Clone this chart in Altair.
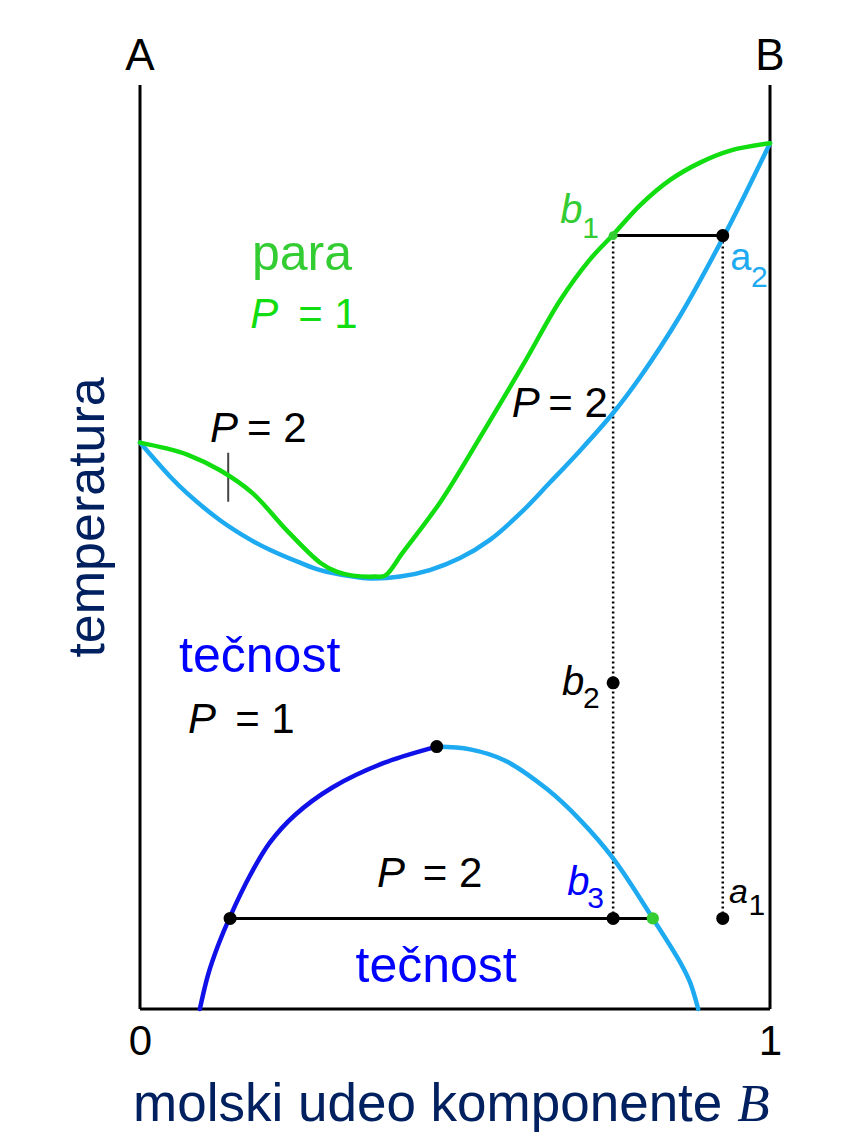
import altair as alt
import pandas as pd

# ---- data (x = mole fraction of B, T = temperature, arbitrary units) ----
upper_blue_x = [0.0, 0.048, 0.075, 0.127, 0.175, 0.206, 0.254, 0.286, 0.338, 0.365, 0.413, 0.460,
                0.508, 0.556, 0.603, 0.651, 0.698, 0.751, 0.794, 0.857, 0.925, 0.960, 1.0]
upper_blue_T = [61.3, 57.6, 55.8, 52.9, 50.8, 49.7, 48.3, 47.5, 46.8, 46.6, 46.8, 47.5,
                48.8, 50.8, 53.6, 57.0, 60.4, 64.5, 68.4, 75.0, 83.4, 88.1, 93.7]

green_x = [0.0, 0.040, 0.075, 0.127, 0.179, 0.233, 0.286, 0.313, 0.338, 0.373, 0.389, 0.417,
           0.476, 0.540, 0.608, 0.667, 0.714, 0.751, 0.794, 0.841, 0.889, 0.937, 1.0]
green_T = [61.3, 60.7, 60.0, 58.3, 55.8, 51.8, 48.3, 47.3, 46.9, 46.8, 46.9, 49.4,
           54.8, 61.9, 69.7, 76.7, 81.1, 83.8, 87.0, 89.7, 91.6, 92.9, 93.7]

dome_left_x = [0.095, 0.108, 0.124, 0.143, 0.175, 0.206, 0.246, 0.306, 0.386, 0.471]
dome_left_T = [0.0, 3.7, 6.9, 10.0, 14.5, 18.0, 21.0, 24.0, 26.6, 28.4]
dome_right_x = [0.471, 0.524, 0.579, 0.646, 0.698, 0.751, 0.814, 0.857, 0.873, 0.886]
dome_right_T = [28.4, 28.1, 26.9, 23.8, 20.5, 16.3, 9.8, 5.1, 2.9, 0.0]

black_dot_x = [0.143, 0.471, 0.751, 0.925, 0.751, 0.925]
black_dot_T = [9.8, 28.4, 9.8, 9.8, 35.3, 83.7]
green_dot_x = [0.751, 0.814]
green_dot_T = [83.7, 9.8]
green_dot_size = [80, 150]

tie_x1 = [0.143, 0.751]
tie_x2 = [0.814, 0.925]
tie_T = [9.8, 83.7]

dotted_x = [0.751, 0.925]
dotted_T1 = [9.8, 9.8]
dotted_T2 = [83.7, 83.7]

tick_x = [0.140]
tick_T1 = [54.9]
tick_T2 = [60.2]

frame_x1 = [0.0, 1.0, 0.0]
frame_x2 = [0.0, 1.0, 1.0]
frame_T1 = [0.0, 0.0, 0.0]
frame_T2 = [100.0, 100.0, 0.0]

# centred upright labels
c_text = ["A", "B", "para", "tečnost", "tečnost"]
c_x = [0.0, 1.0, 0.257, 0.190, 0.470]
c_T = [101.6, 101.6, 80.0, 36.5, 2.9]
c_size = [44, 44, 50, 50, 50]
c_color = ["#000000", "#000000", "#33CC33", "#0000FF", "#0000FF"]

# left-aligned upright labels
l_text = ["= 2", "= 2", "=  1", "=  1", "=  2", "1", "a", "2", "2", "3", "1", "molski udeo komponente"]
l_x = [0.170, 0.648, 0.251, 0.151, 0.449, 0.702, 0.937, 0.970, 0.703, 0.710, 0.966, -0.011]
l_T = [61.4, 64.1, 73.7, 29.9, 13.2, 83.4, 80.0, 78.1, 32.6, 10.9, 10.2, -12.1]
l_size = [42, 42, 42, 42, 42, 30, 38, 30, 30, 30, 30, 53]
l_color = ["#000000", "#000000", "#11DD11", "#000000", "#000000", "#33CC33", "#1EAAF0",
           "#1EAAF0", "#000000", "#0000FF", "#000000", "#002060"]

# left-aligned italic labels
i_text = ["P", "P", "P", "P", "P", "b", "b", "b", "a"]
i_x = [0.111, 0.590, 0.175, 0.076, 0.376, 0.667, 0.670, 0.678, 0.935]
i_T = [61.4, 64.1, 73.7, 29.9, 13.2, 85.1, 34.0, 12.3, 11.5]
i_size = [42, 42, 42, 42, 42, 40, 40, 40, 34]
i_color = ["#000000", "#000000", "#11DD11", "#000000", "#000000", "#33CC33", "#000000",
           "#0000FF", "#000000"]

serif_text = ["B"]
serif_x = [0.948]
serif_T = [-12.1]

ylabel_text = ["temperatura"]
ylabel_x = [-0.083]
ylabel_T = [53.2]

# ---- build tables ----
def curve(xs, ts, name):
    return pd.DataFrame({"x": xs, "T": ts, "curve": name})

blue_df = curve(upper_blue_x, upper_blue_T, "blue")
green_df = curve(green_x, green_T, "green")
dl_df = curve(dome_left_x, dome_left_T, "dl")
dr_df = curve(dome_right_x, dome_right_T, "dr")

FONT = "Arial, Liberation Sans"

X = alt.X("x:Q", scale=alt.Scale(domain=[0, 1], zero=False, nice=False),
          axis=alt.Axis(values=[0, 1], format="d", ticks=False, domain=False, grid=False,
                        title=None, labelFontSize=42, labelFont=FONT,
                        labelColor="#000000", labelPadding=12, labelFlush=False))
Y = alt.Y("T:Q", scale=alt.Scale(domain=[0, 100], zero=False, nice=False), axis=None)
Xn = alt.X("x:Q")
Yn = alt.Y("T:Q")


def line_layer(df, color):
    return alt.Chart(df).mark_line(color=color, strokeWidth=4.5, interpolate="catmull-rom",
                                   strokeCap="round").encode(x=Xn, y=Yn, order="x:Q")

frame = alt.Chart(pd.DataFrame({"x": frame_x1, "x2": frame_x2, "T": frame_T1, "T2": frame_T2})
                  ).mark_rule(color="#000000", strokeWidth=3).encode(
    x=X, x2="x2:Q", y=Y, y2="T2:Q")

dotted = alt.Chart(pd.DataFrame({"x": dotted_x, "T": dotted_T1, "T2": dotted_T2})).mark_rule(
    color="#000000", strokeWidth=2.5, strokeDash=[2, 3]).encode(x=Xn, y=Yn, y2="T2:Q")

ties = alt.Chart(pd.DataFrame({"x": tie_x1, "x2": tie_x2, "T": tie_T})).mark_rule(
    color="#000000", strokeWidth=3).encode(x=Xn, x2="x2:Q", y=Yn)

tick = alt.Chart(pd.DataFrame({"x": tick_x, "T": tick_T1, "T2": tick_T2})).mark_rule(
    color="#444444", strokeWidth=2).encode(x=Xn, y=Yn, y2="T2:Q")

black_dots = alt.Chart(pd.DataFrame({"x": black_dot_x, "T": black_dot_T})).mark_point(
    filled=True, color="#000000", size=170, opacity=1).encode(x=Xn, y=Yn)

green_dots = alt.Chart(pd.DataFrame({"x": green_dot_x, "T": green_dot_T, "s": green_dot_size})
                       ).mark_point(filled=True, color="#33CC33", opacity=1).encode(
    x=Xn, y=Yn, size=alt.Size("s:Q", scale=None, legend=None))


def text_layer(texts, xs, ts, sizes, colors, align, style="normal", font=FONT):
    df = pd.DataFrame({"label": texts, "x": xs, "T": ts, "fs": sizes, "c": colors})
    return alt.Chart(df).mark_text(align=align, baseline="alphabetic", font=font,
                                   fontStyle=style).encode(
        x=Xn, y=Yn, text="label:N",
        size=alt.Size("fs:Q", scale=None, legend=None),
        color=alt.Color("c:N", scale=None, legend=None))

t_center = text_layer(c_text, c_x, c_T, c_size, c_color, "center")
t_left = text_layer(l_text, l_x, l_T, l_size, l_color, "left")
t_ital = text_layer(i_text, i_x, i_T, i_size, i_color, "left", style="italic")
t_serif = text_layer(serif_text, serif_x, serif_T, [53], ["#002060"], "left", style="italic",
                     font="Times New Roman, Liberation Serif")

t_ylabel = alt.Chart(pd.DataFrame({"label": ylabel_text, "x": ylabel_x, "T": ylabel_T})).mark_text(
    align="center", baseline="middle", angle=270, font=FONT, fontSize=52, color="#002060").encode(
    x=Xn, y=Yn, text="label:N")

chart = alt.layer(
    frame,
    dotted,
    ties,
    tick,
    line_layer(blue_df, "#1EAAF0"),
    line_layer(green_df, "#11DD11"),
    line_layer(dl_df, "#1010E8"),
    line_layer(dr_df, "#1EAAF0"),
    black_dots,
    green_dots,
    t_center,
    t_left,
    t_ital,
    t_serif,
    t_ylabel,
).properties(
    width=630,
    height=924,
    autosize="none",
    padding={"left": 132, "top": 77, "right": 60, "bottom": 135},
    background="white",
).configure_view(stroke=None)

chart.save("out.html", embed_options={"renderer": "svg", "actions": False})
